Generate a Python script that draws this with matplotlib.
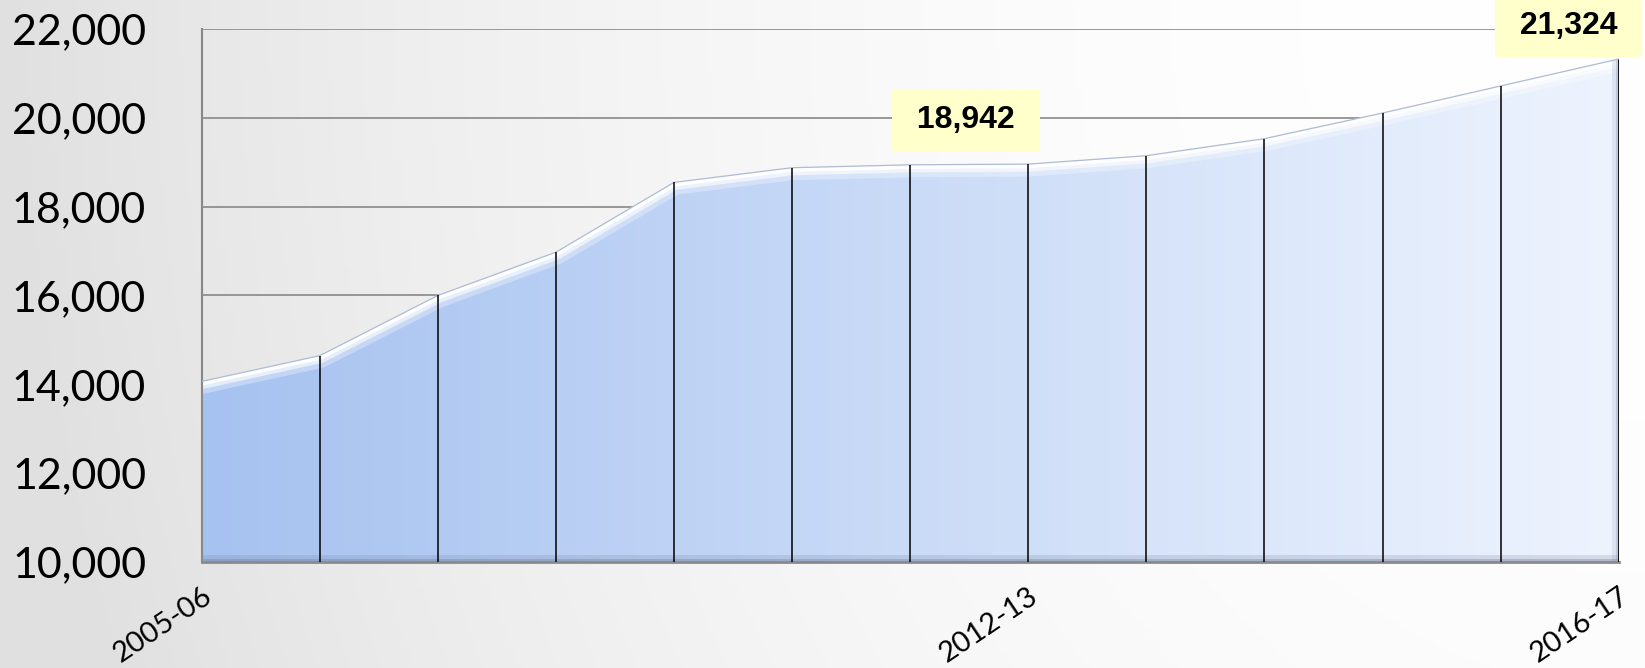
import numpy as np
import matplotlib
matplotlib.use("Agg")
import matplotlib.pyplot as plt
from matplotlib.patches import Polygon

# values, one per year step
values = [14065, 14645, 16000, 16975, 18546, 18877, 18942, 18958,
          19147, 19531, 20108, 20717, 21324]
tick_pos = [0, 7, 12]
tick_labels = ["2005-06", "2012-13", "2016-17"]
yticks = [10000, 12000, 14000, 16000, 18000, 20000, 22000]
label_idx = [6, 12]

x = np.arange(len(values))
y = np.array(values, dtype=float)
y0 = 10000

fig = plt.figure(figsize=(16.45, 6.68), dpi=100)

# background: grey on the left fading to white towards the top right
bg = fig.add_axes([0, 0, 1, 1], zorder=-10)
gx, gy = np.meshgrid(np.linspace(0, 1, 400), np.linspace(1, 0, 200))
d = np.sqrt((gx - 1.0) ** 2 + ((gy - 1.0) / 3.0) ** 2)
v = 255 - 31 * np.clip(d, 0, 1) ** 2.2
bg.imshow(np.dstack([v, v, v]) / 255.0, extent=[0, 1, 0, 1], aspect="auto")
bg.axis("off")

ax = fig.add_axes([0.1226, 0.1587, 0.984 - 0.1226, 0.9566 - 0.1587])
ax.set_facecolor("none")
ax.set_xlim(0, len(values) - 1)
ax.set_ylim(y0, 22000)

# area with a left-to-right blue gradient
poly = Polygon(np.column_stack([np.r_[x, x[::-1]], np.r_[y, np.full_like(y, y0)]]),
               closed=True, facecolor="none", edgecolor="none")
ax.add_patch(poly)
c0 = np.array([166, 194, 240]) / 255.0
c1 = np.array([238, 244, 254]) / 255.0
t = np.linspace(0, 1, 512)
grad = (c0[None, :] * (1 - t[:, None]) + c1[None, :] * t[:, None])[None, :, :]
im = ax.imshow(grad, extent=[0, len(values) - 1, y0, 22000], aspect="auto",
               interpolation="bilinear", zorder=1)
im.set_clip_path(poly)

# bevel: white highlight under the top edge, darker band at the bottom
for lw, a in [(18, 0.3), (11, 0.6), (6, 0.95)]:
    ln, = ax.plot(x, y, color="white", lw=lw, alpha=a, zorder=2, solid_joinstyle="round")
    ln.set_clip_path(poly)
for lw, a in [(10, 0.2), (5, 0.35)]:
    sh = ax.axhline(y0, color="#6f7c98", lw=lw, alpha=a, zorder=2)
    sh.set_clip_path(poly)
    sv = ax.axvline(x[-1], color="#8f9ab8", lw=lw, alpha=a, zorder=2)
    sv.set_clip_path(poly)
ax.plot(x, y, color="#aebbd4", lw=0.9, zorder=3)

# drop lines
ax.vlines(x[1:-1], y0, y[1:-1], color="black", lw=1.1, zorder=4)
ax.vlines(x[-1], y0, y[-1], color="black", lw=2.0, zorder=4)

# grid and axes
ax.set_yticks(yticks)
ax.set_yticklabels([f"{t:,}" for t in yticks], fontsize=31, family="Lato")
ax.yaxis.grid(True, color="#888888", lw=1.2, zorder=0)
ax.set_axisbelow(True)
ax.set_xticks(tick_pos)
ax.set_xticklabels(tick_labels, fontsize=21, family="Lato", rotation=34,
                   ha="right", rotation_mode="anchor")
ax.tick_params(axis="y", length=0, pad=40)
ax.tick_params(axis="x", length=0, pad=15)
for s in ["top", "right"]:
    ax.spines[s].set_visible(False)
ax.spines["left"].set_color("#888888")
ax.spines["left"].set_linewidth(1.5)
ax.spines["bottom"].set_color("#8a8a8a")
ax.spines["bottom"].set_linewidth(2)

# data labels in pale yellow boxes
offsets = {6: (56, 45), 12: (-50, 33)}
for i in label_idx:
    ax.annotate(f" {values[i]:,} ", xy=(i, values[i]), xytext=offsets[i],
                textcoords="offset pixels", ha="center", va="center",
                fontsize=23, fontweight="bold", family="Liberation Sans",
                bbox=dict(boxstyle="square,pad=0.5", fc="#ffffcc", ec="none"),
                annotation_clip=False, zorder=6)

fig.savefig("out.png", dpi=100)
